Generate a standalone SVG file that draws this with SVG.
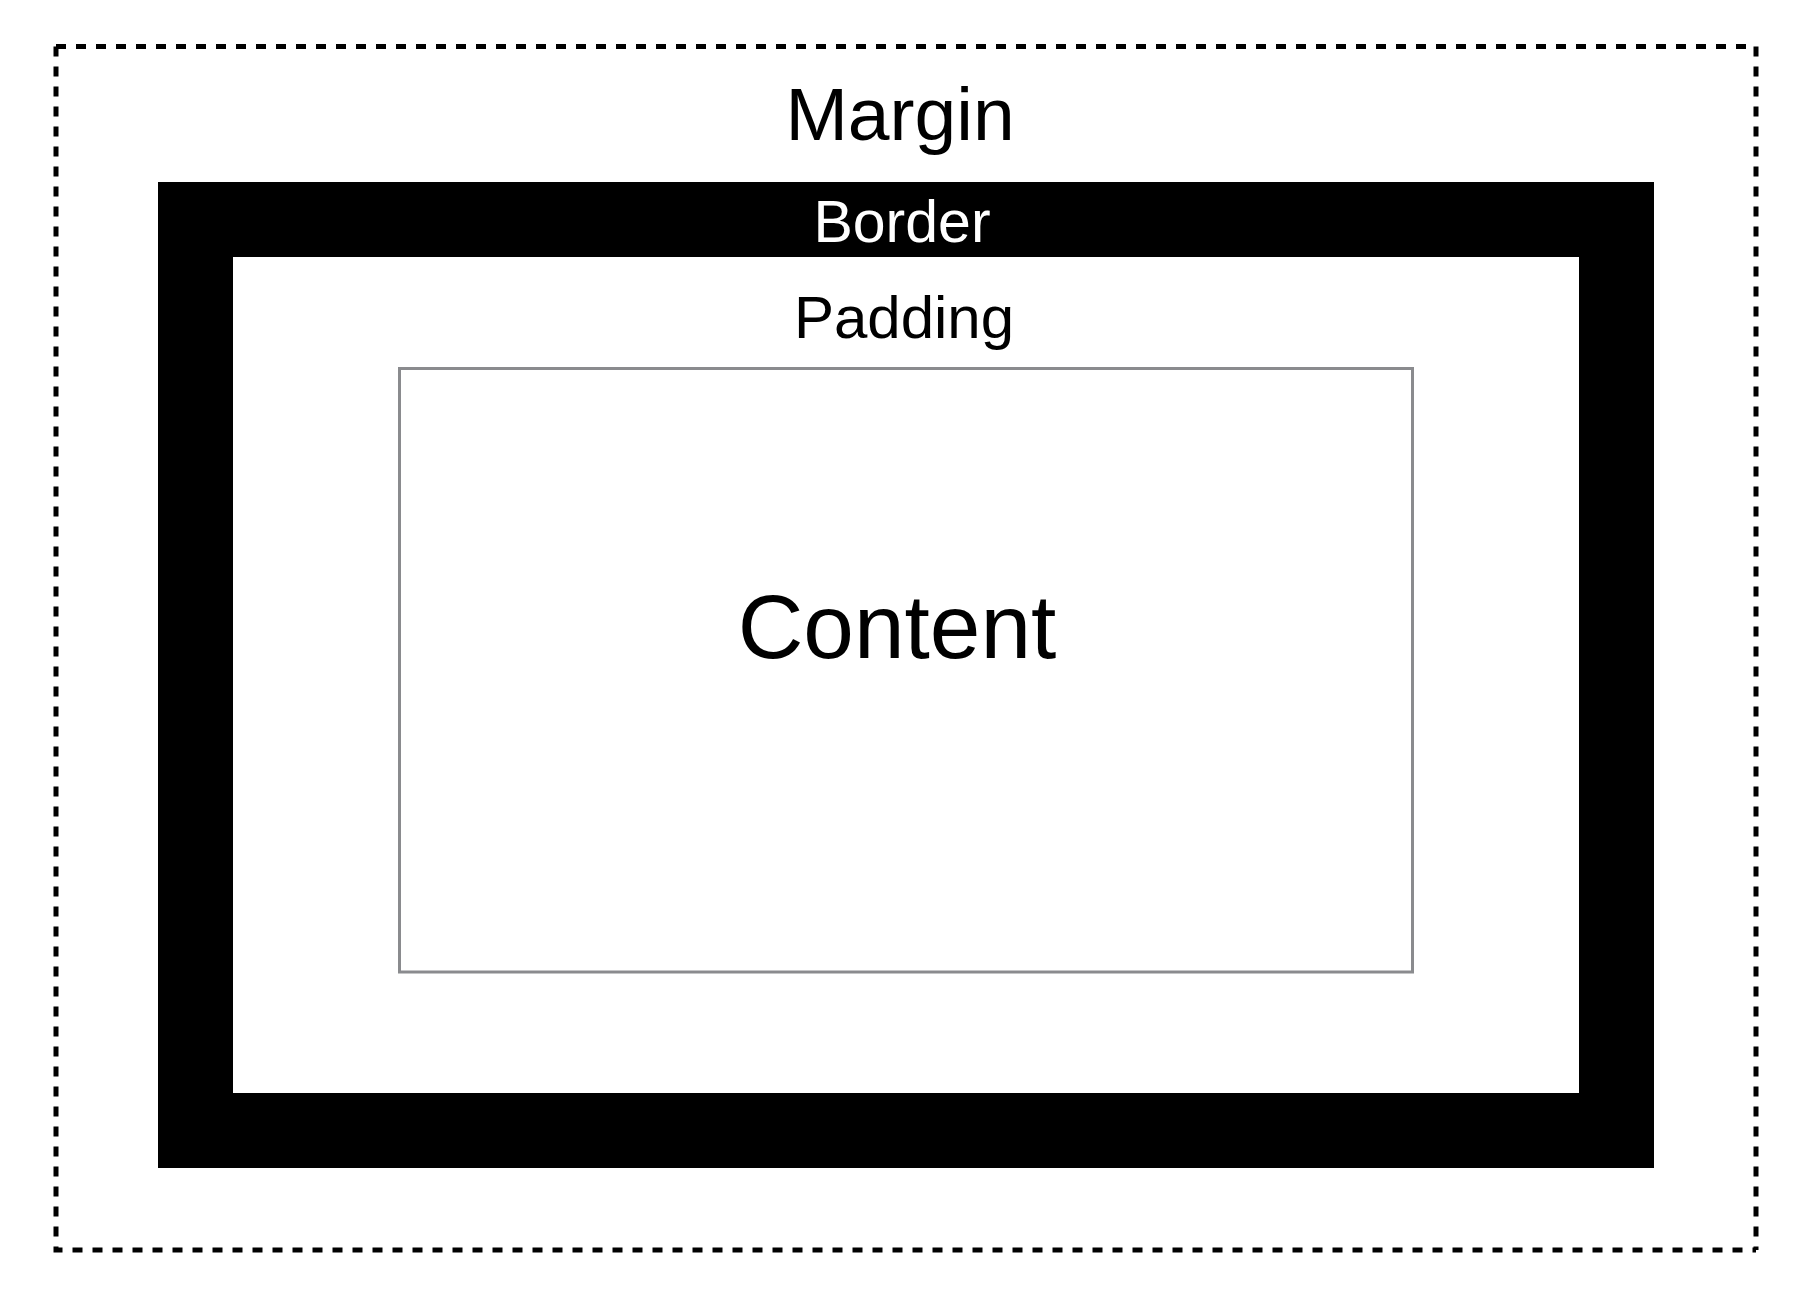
<svg xmlns="http://www.w3.org/2000/svg" width="1812" height="1306" viewBox="0 0 1812 1306">
  <style>
    .lbl { font-family: "Liberation Sans", Arial, Helvetica, sans-serif; text-anchor: middle; }
    .margin-line { fill: none; stroke: #000; stroke-width: 5; stroke-dasharray: 10 10; }
  </style>
  <rect width="1812" height="1306" fill="#fff"/>
  <g id="margin">
    <path class="margin-line" d="M56,46.5 H1756 V1250"/>
    <path class="margin-line" d="M56,46.5 V1250 H1756"/>
    <text class="lbl" x="900" y="140" font-size="75" fill="#000">Margin</text>
  </g>
  <g id="border">
    <path fill="#000" fill-rule="evenodd" d="M158,182 H1654 V1168 H158 Z M233,257 V1093 H1579 V257 Z"/>
    <text class="lbl" x="902" y="241.5" font-size="59" fill="#fff">Border</text>
  </g>
  <g id="padding">
    <text class="lbl" x="904" y="337.5" font-size="60" fill="#000">Padding</text>
  </g>
  <g id="content">
    <rect x="399.5" y="368.5" width="1013" height="603.5" fill="none" stroke="#8a8b8e" stroke-width="3"/>
    <text class="lbl" x="897" y="657.5" font-size="91" fill="#000">Content</text>
  </g>
  <g id="connectors"/>
</svg>
